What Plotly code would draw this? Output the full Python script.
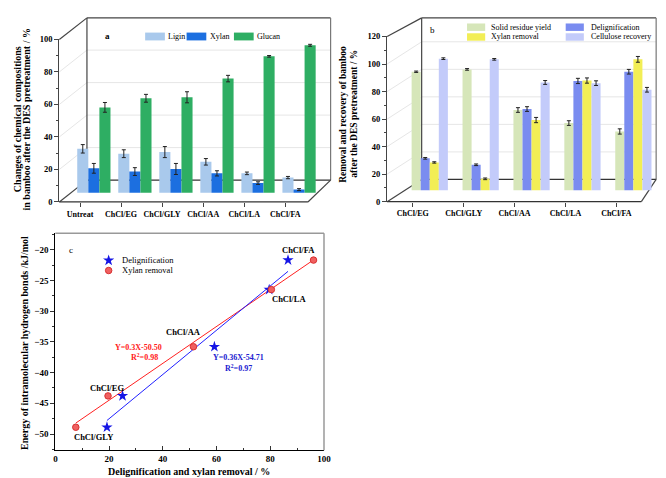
import plotly.graph_objects as go

W, H = 666, 478
FONT = "Liberation Serif"


def px(x):
    return x / W


def py(y):
    return 1 - y / H


# ---------------- Panel a data ----------------
cats_a = ["Untreat", "ChCl/EG", "ChCl/GLY", "ChCl/AA", "ChCl/LA", "ChCl/FA"]
lignin = [27.1, 24.1, 25.1, 19.1, 12.0, 9.4]
lignin_err = [2.6, 2.4, 3.4, 2.0, 0.8, 0.7]
xylan = [15.1, 13.1, 14.7, 12.0, 6.0, 2.0]
xylan_err = [3.0, 2.4, 3.4, 1.6, 0.8, 0.6]
glucan = [52.6, 58.2, 58.8, 70.3, 84.0, 90.8]
glucan_err = [3.0, 2.4, 3.4, 2.0, 0.5, 0.6]

# ---------------- Panel b data ----------------
cats_b = ["ChCl/EG", "ChCl/GLY", "ChCl/AA", "ChCl/LA", "ChCl/FA"]
solid = [86.1, 87.8, 58.3, 48.8, 42.7]
solid_err = [0.5, 0.6, 1.7, 1.7, 1.9]
delig = [23.2, 18.5, 59.0, 79.4, 86.1]
delig_err = [0.6, 0.6, 1.7, 1.9, 1.7]
xyl_rem = [20.2, 8.3, 51.0, 79.7, 95.1]
xyl_rem_err = [0.5, 0.6, 1.9, 1.9, 2.1]
cell = [95.6, 95.1, 78.3, 77.8, 73.0]
cell_err = [0.6, 0.6, 1.4, 1.7, 1.7]

# ---------------- Panel c data ----------------
labels_c = ["ChCl/EG", "ChCl/GLY", "ChCl/AA", "ChCl/LA", "ChCl/FA"]
energy = [-43.8, -48.9, -35.8, -26.5, -21.7]
delig_c = [25.0, 19.2, 59.2, 79.6, 86.6]
xyl_c = [19.6, 7.6, 51.4, 80.4, 96.1]
fit_red = (0.30, -50.50)
fit_blue = (0.36, -54.71)

# colours
LIG_C = "#A9C9EC"
XYL_C = "#1C6FE0"
GLU_C = "#2EAE63"
SOLID_C = "#D6E6B9"
DELIG_C = "#7A8CF0"
XYLREM_C = "#F2EE55"
CELL_C = "#C3CBFA"
ERR = dict(type="data", color="#222222", thickness=1, width=2)

fig = go.Figure()

# ---- panel a bars ----
BASE_A = 5.6
wa = 0.27
xa = list(range(len(cats_a)))
for vals, errs, col, k in [(lignin, lignin_err, LIG_C, 0),
                           (xylan, xylan_err, XYL_C, 1),
                           (glucan, glucan_err, GLU_C, 2)]:
    fig.add_trace(go.Bar(x=xa, y=vals, base=BASE_A, width=wa, offset=(k - 1.5) * wa,
                         marker=dict(color=col, line=dict(width=0)),
                         error_y=dict(array=errs, **ERR),
                         xaxis="x", yaxis="y", showlegend=False))

# ---- panel b bars ----
BASE_B = 8.3
wb = 0.178
xb = list(range(len(cats_b)))
for vals, errs, col, k in [(solid, solid_err, SOLID_C, 0),
                           (delig, delig_err, DELIG_C, 1),
                           (xyl_rem, xyl_rem_err, XYLREM_C, 2),
                           (cell, cell_err, CELL_C, 3)]:
    fig.add_trace(go.Bar(x=xb, y=vals, base=BASE_B, width=wb, offset=(k - 2) * wb,
                         marker=dict(color=col, line=dict(width=0)),
                         error_y=dict(array=errs, **ERR),
                         xaxis="x2", yaxis="y2", showlegend=False))

# ---- panel c ----
def fit_line(xs, coef):
    x0, x1 = min(xs), max(xs)
    return [x0, x1], [coef[0] * x0 + coef[1], coef[0] * x1 + coef[1]]

STAR = dict(symbol="star", size=8.5, color="#1515E5")
DOT = dict(symbol="circle", size=6.5, color="#F06060", line=dict(color="#D83030", width=1))

lx, ly = fit_line(xyl_c, fit_red)
fig.add_trace(go.Scatter(x=lx, y=ly, mode="lines", line=dict(color="#FF2020", width=1),
                         xaxis="x3", yaxis="y3", showlegend=False))
lx, ly = fit_line(delig_c, fit_blue)
fig.add_trace(go.Scatter(x=lx, y=ly, mode="lines", line=dict(color="#2020FF", width=1),
                         xaxis="x3", yaxis="y3", showlegend=False))
fig.add_trace(go.Scatter(x=delig_c, y=energy, mode="markers", marker=STAR,
                         xaxis="x3", yaxis="y3", showlegend=False))
fig.add_trace(go.Scatter(x=xyl_c, y=energy, mode="markers", marker=DOT,
                         xaxis="x3", yaxis="y3", showlegend=False))


def c_data(xp, yp):
    # pixel -> panel-c data coordinates (for the hand-placed legend symbols)
    x = (xp - 46) / ((318.3 - 46) / 100.0)
    y = -20 - (yp - 241.7) / 6.27
    return x, y

sx, sy = c_data(100, 252.7)
fig.add_trace(go.Scatter(x=[sx], y=[sy], mode="markers", marker=STAR,
                         xaxis="x3", yaxis="y3", showlegend=False))
sx, sy = c_data(100, 263.0)
fig.add_trace(go.Scatter(x=[sx], y=[sy], mode="markers", marker=DOT,
                         xaxis="x3", yaxis="y3", showlegend=False))

# ---------------- axes ----------------
tickfont = dict(family=FONT, size=8.5, color="black", weight="bold")
catfont = dict(family=FONT, size=8, color="black", weight="bold")

# panel a geometry
A_L, A_R = 50, 325
A_Y0, A_Y100 = 193, 27
A_PPU = 41.6
A_C0 = 85
fig.update_layout(
    xaxis=dict(domain=[px(A_L), px(A_R)], anchor="y",
               range=[(A_L - A_C0) / A_PPU, (A_R - A_C0) / A_PPU],
               showline=False, showgrid=False, zeroline=False,
               tickmode="array", tickvals=[i - 14 / A_PPU for i in xa], ticktext=cats_a,
               ticks="outside", ticklen=4, tickcolor="#444", tickfont=catfont),
    yaxis=dict(domain=[py(A_Y0), py(A_Y100)], anchor="x", range=[0, 100],
               showline=True, linecolor="#444", linewidth=1.2,
               showgrid=False, zeroline=False, dtick=20,
               ticks="outside", ticklen=4, tickcolor="#444", tickfont=tickfont,
               minor=dict(ticks="outside", ticklen=2, dtick=10, tickcolor="#444")),
)

# panel b geometry
B_L, B_R = 382.3, 655
B_Y0, B_Y120 = 192.7, 24
B_PPU = 51.6
B_C0 = 425.5
fig.update_layout(
    xaxis2=dict(domain=[px(B_L), px(B_R)], anchor="y2",
                range=[(B_L - B_C0) / B_PPU, (B_R - B_C0) / B_PPU],
                showline=False, showgrid=False, zeroline=False,
                tickmode="array", tickvals=[i - 17.2 / B_PPU for i in xb], ticktext=cats_b,
                ticks="outside", ticklen=4, tickcolor="#444", tickfont=catfont),
    yaxis2=dict(domain=[py(B_Y0), py(B_Y120)], anchor="x2", range=[0, 120],
                showline=True, linecolor="#444", linewidth=1.2,
                showgrid=False, zeroline=False, dtick=20,
                ticks="outside", ticklen=4, tickcolor="#444", tickfont=tickfont,
                minor=dict(ticks="outside", ticklen=2, dtick=10, tickcolor="#444")),
)

# panel c geometry
C_L, C_R, C_T, C_B = 46, 318.3, 225, 446.7
fig.update_layout(
    xaxis3=dict(domain=[px(C_L), px(C_R)], anchor="y3", range=[0, 100],
                showline=True, linecolor="black", linewidth=1.2,
                showgrid=False, zeroline=False, dtick=20,
                ticks="inside", ticklen=4, tickcolor="#333",
                tickfont=dict(family=FONT, size=9, color="black", weight="bold"),
                minor=dict(ticks="inside", ticklen=2, dtick=10, tickcolor="#333")),
    yaxis3=dict(domain=[py(C_B), py(C_T)], anchor="x3", range=[-52.66, -17.34],
                showline=True, linecolor="black", linewidth=1.2,
                showgrid=False, zeroline=False, dtick=5, tick0=-50,
                ticks="outside", ticklen=4, tickcolor="#333",
                tickfont=dict(family=FONT, size=9, color="black", weight="bold"),
                minor=dict(ticks="outside", ticklen=2, dtick=2.5, tickcolor="#333")),
)

# ---------------- shapes (pseudo-3D frames) ----------------
shapes = []


def line(x0, y0, x1, y1, color="#444", width=1.2, layer="below"):
    shapes.append(dict(type="line", xref="paper", yref="paper",
                       x0=px(x0), y0=py(y0), x1=px(x1), y1=py(y1),
                       line=dict(color=color, width=width), layer=layer))


def rect(x0, y0, x1, y1, color):
    shapes.append(dict(type="rect", xref="paper", yref="paper",
                       x0=px(x0), y0=py(y0), x1=px(x1), y1=py(y1),
                       fillcolor=color, line=dict(width=0), layer="above"))


GRID = "#E6E6E6"
# panel a
a_ppu_y = (A_Y0 - A_Y100) / 100.0
aBL, aBF = 78, 170.7
for v in [20, 40, 60, 80]:
    line(aBL, aBF - v * a_ppu_y, A_R, aBF - v * a_ppu_y, GRID, 1)
    line(A_L, A_Y0 - v * a_ppu_y, aBL, aBF - v * a_ppu_y, GRID, 1)
line(aBL, 5, aBL, aBF)
line(aBL, 5, A_R, 5)
line(A_R, 5, A_R, aBF, "#777")
line(aBL, aBF, A_R, aBF, "#333")
line(A_L, A_Y100, aBL, 5)
line(A_L, A_Y0, aBL, aBF)
line(A_L, A_Y0, 302, A_Y0, "#333")
line(302, A_Y0, A_R, aBF)

# panel b
b_ppu_y = (B_Y0 - B_Y120) / 120.0
bBL, bBF = 417.3, 170
for v in [20, 40, 60, 80, 100]:
    line(bBL, bBF - v * b_ppu_y, B_R, bBF - v * b_ppu_y, GRID, 1)
    line(B_L, B_Y0 - v * b_ppu_y, bBL, bBF - v * b_ppu_y, GRID, 1)
line(bBL, 5, bBL, bBF)
line(bBL, 5, B_R, 5)
line(B_R, 5, B_R, bBF, "#777")
line(bBL, bBF, B_R, bBF, "#333")
line(B_L, B_Y120, bBL, 5)
line(B_L, B_Y0, bBL, bBF)
line(B_L, B_Y0, 640, B_Y0, "#333")
line(640, B_Y0, B_R, bBF)

# panel c top/right frame
line(C_L, C_T, C_R, C_T, "#999", 1.5, "above")
line(C_R, C_T, C_R, C_B, "#999", 1.5, "above")

# legends (swatches)
rect(137, 20, 157, 28, LIG_C)
rect(179, 20, 199, 28, XYL_C)
rect(227, 20, 247, 28, GLU_C)
rect(463.3, 10.7, 481.7, 18.3, SOLID_C)
rect(463.3, 20.7, 481.7, 28.3, XYLREM_C)
rect(563.3, 10.7, 581.7, 18.3, DELIG_C)
rect(563.3, 20.7, 581.7, 28.3, CELL_C)

# ---------------- annotations ----------------
anns = []


def ann(text, x, y, size=8, color="black", bold=False, xanchor="center", angle=0):
    t = f"<b>{text}</b>" if bold else text
    anns.append(dict(text=t, x=px(x), y=py(y), xref="paper", yref="paper",
                     showarrow=False, xanchor=xanchor, yanchor="middle",
                     textangle=angle, font=dict(family=FONT, size=size, color=color)))


# panel a
ann("a", 99, 23, 9, bold=True)
ann("Ligin", 158.5, 24, 8, xanchor="left")
ann("Xylan", 200.5, 24, 8, xanchor="left")
ann("Glucan", 248.5, 24, 8, xanchor="left")
ann("Changes of chemical compositions", 7.5, 108, 10, bold=True, angle=-90)
ann("in bamboo after the DES pretreatment / %", 17, 108, 10, bold=True, angle=-90)

# panel b
ann("b", 428.3, 17.3, 9)
ann("Solid residue yield", 486, 14.5, 8, xanchor="left")
ann("Xylan removal", 486, 24.5, 8, xanchor="left")
ann("Delignification", 586.7, 14.5, 8, xanchor="left")
ann("Cellulose recovery", 586.7, 24.5, 8, xanchor="left")
ann("Removal and recovery of bamboo", 337.5, 103, 9.5, bold=True, angle=-90)
ann("after the DES pretreatment / %", 348.5, 103, 9.5, bold=True, angle=-90)

# panel c
ann("c", 61.7, 242.3, 9)
ann("Delignification", 111.7, 252.7, 8.5, xanchor="left")
ann("Xylan removal", 111.7, 263.0, 8.5, xanchor="left")
label_pos = {"ChCl/EG": (98.3, 383.3), "ChCl/GLY": (85, 432.7), "ChCl/AA": (176, 326),
             "ChCl/LA": (282.7, 291.7), "ChCl/FA": (292.7, 241.7)}
for lab in labels_c:
    x, y = label_pos[lab]
    ann(lab, x, y, 8.5, bold=True)
ann("Y=0.3X-50.50", 130, 341.7, 8, "#FF2020", bold=True)
ann("R<sup>2</sup>=0.98", 136.7, 351.5, 8, "#FF2020", bold=True)
ann("Y=0.36X-54.71", 231.7, 351.7, 8, "#2020D0", bold=True)
ann("R<sup>2</sup>=0.97", 231.7, 362.7, 8, "#2020D0", bold=True)
ann("Delignification and xylan removal / %", 181, 468.3, 10, bold=True)
ann("Energy of intramolecular hydrogen bonds /kJ/mol", 14.5, 336.7, 10, bold=True, angle=-90)

fig.update_layout(
    width=W, height=H, autosize=False,
    margin=dict(l=0, r=0, t=0, b=0),
    paper_bgcolor="white", plot_bgcolor="rgba(0,0,0,0)",
    barmode="overlay",
    shapes=shapes, annotations=anns,
    font=dict(family=FONT, color="black"),
)

fig.write_html("out.html")
